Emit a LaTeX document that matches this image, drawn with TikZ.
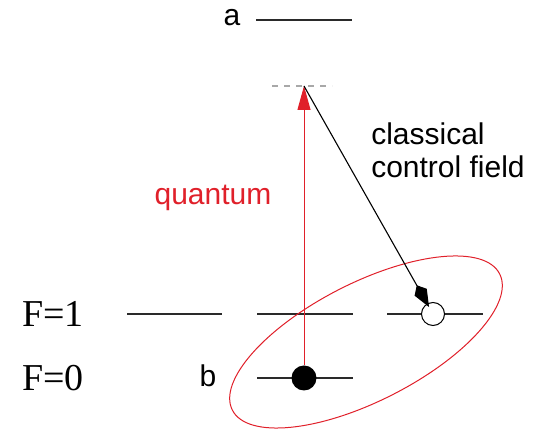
\documentclass[tikz,border=0pt]{standalone}
\usepackage{fontspec}
\setmainfont{Liberation Serif}
\setsansfont{Liberation Sans}
\usepackage{tikz}
\usetikzlibrary{arrows.meta,positioning,calc}
\definecolor{levc}{HTML}{2A2A2A}
\definecolor{quc}{HTML}{E0202A}
\definecolor{virtc}{HTML}{A8A8A8}
\tikzset{
  lev/.style={draw=levc,line width=1.2pt},
  virt/.style={draw=virtc,line width=1.2pt,dash pattern=on 6pt off 6pt},
  fulldot/.style={circle,fill=black,minimum size=25pt,inner sep=0pt},
  opendot/.style={circle,draw=black,fill=white,line width=1pt,minimum size=23pt,inner sep=0pt},
  qarrow/.style={-{Triangle[length=24pt,width=13pt]},draw=quc,line width=1pt},
  carrow/.style={-{Kite[length=25pt,width=14pt,inset=8pt]},draw=black,line width=1.1pt},
  lab/.style={font=\sffamily\fontsize{30}{33}\selectfont,inner sep=0pt},
  flab/.style={font=\rmfamily\fontsize{38}{40}\selectfont,inner sep=0pt},
}
\begin{document}
\begin{tikzpicture}[x=1pt,y=1pt]
  \useasboundingbox (0,0) rectangle (539,431);
  % energy levels
  \draw[lev] (256,411) -- (352,411);
  \draw[virt] (272,345) -- (332,345);
  \draw[lev] (127,117) -- (222,117);
  \draw[lev] (257,117) -- (353,117);
  \draw[lev] (387,117) -- (483,117);
  \draw[lev] (257,53) -- (353,53);
  \coordinate (top) at (304,345);
  % populations
  \node[fulldot] (bdot) at (304,53) {};
  \node[opendot] (cdot) at (433,117) {};
  % coupling ellipse
  \draw[quc,line width=1pt,rotate around={27:(366,89)}] (366,89) ellipse [x radius=150,y radius=59];
  % fields
  \draw[qarrow] (bdot.north) -- (top);
  \draw[carrow,shorten >=8pt] (top) -- (cdot.center);
  % labels
  \node[lab] (la) at (232,413) {a};
  \node[lab] (lb) at (208,55) {b};
  \node[flab] (f1) at (53,117) {F=1};
  \node[flab] (f0) at (53,53) {F=0};
  \node[lab,text=quc] (lq) at (213,233) {quantum};
  \node[lab,align=left] (lc) at (448,281) {classical\\control field};
\end{tikzpicture}
\end{document}
